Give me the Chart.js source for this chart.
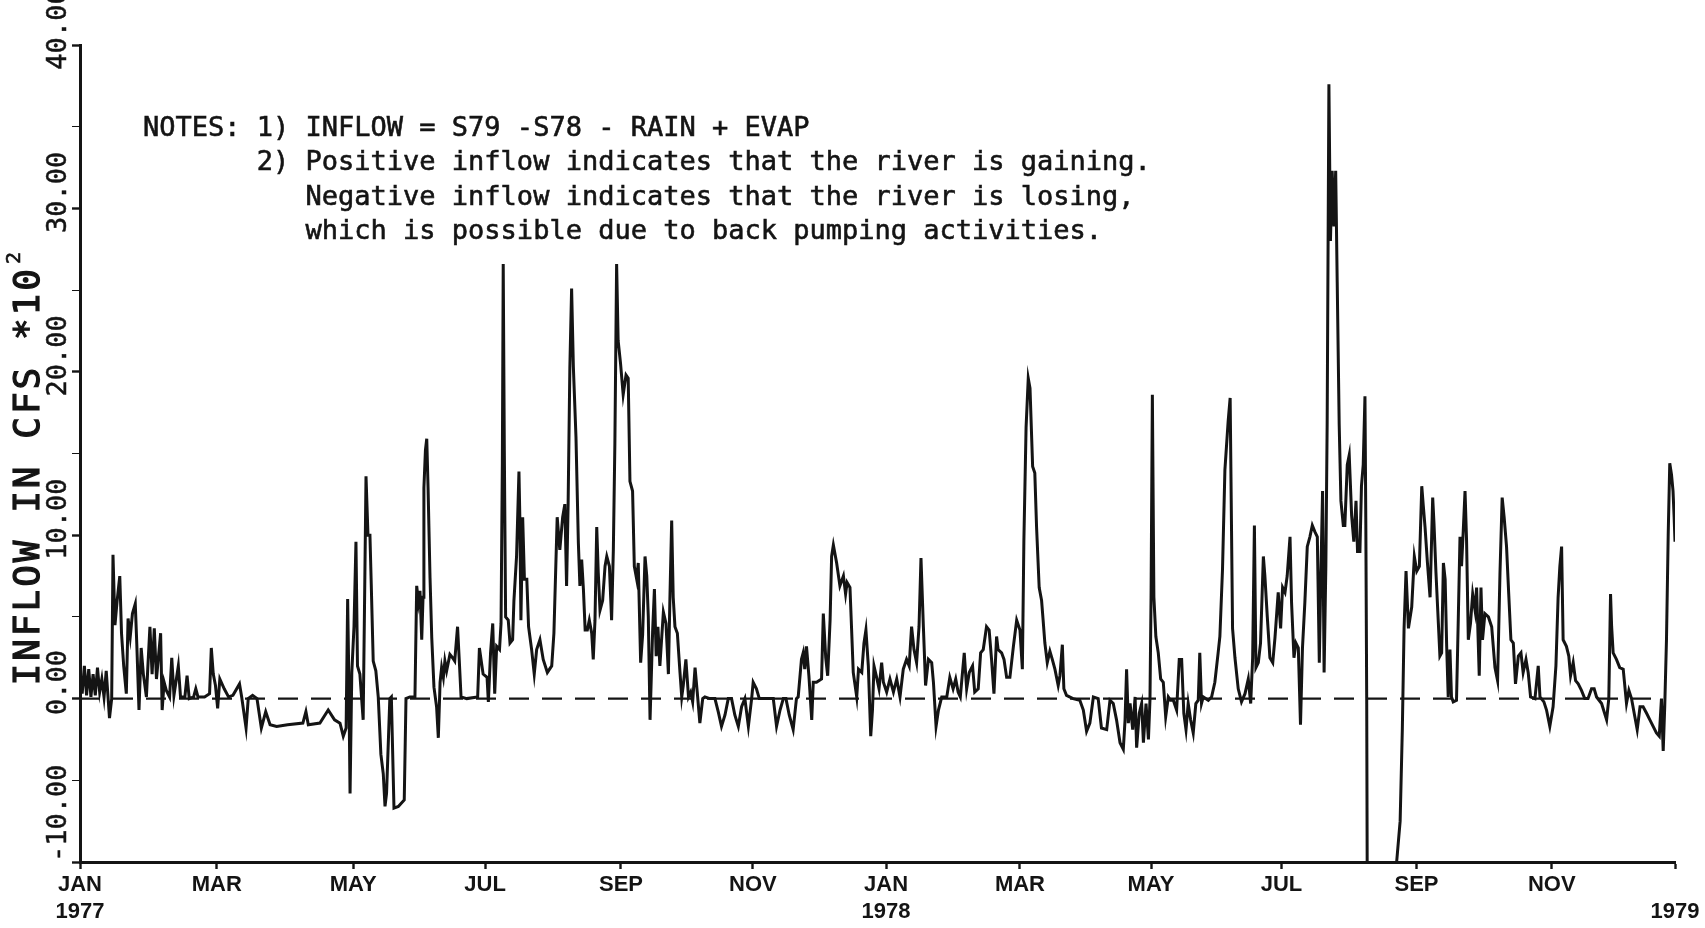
<!DOCTYPE html>
<html>
<head>
<meta charset="utf-8">
<title>Inflow S79 - S78</title>
<script src="https://cdn.jsdelivr.net/npm/chart.js@4.4.1/dist/chart.umd.min.js"></script>
<style>
  html, body { margin: 0; padding: 0; background: #fff; }
  #wrap { width: 1705px; height: 928px; }
</style>
</head>
<body>
<div id="wrap"><canvas id="myChart"></canvas></div>
<script>
// x = plot day counted from Jan 1 1977, y = inflow in cfs x 100
// values, one [day, value] pair per vertex
const inflow1977a = [
  [0,1.5],[1,0.3],[2,2.0],[3,0.2],[4,1.8],[5,0.1],[6,1.5],[7,0.2],[8,1.9],[9,0.4],[10,1.2],[11,0.1],[12,1.7],
  [13.5,-1.2],[14.5,0.0],[15.1,8.8],[16,4.5],[17,6.0],[18.2,7.5],[19,4.0],[20,2.0],[21.2,0.3],[22,4.9],[23,3.8],
  [24,5.2],[25.3,5.8],[26,3.3],[27,-0.7],[28,3.1],[29,1.5],[30.4,0.1],[31,1.8],[32,4.4],[33,1.5],[34,4.3],[35,1.2],
  [36.9,4.0],[37.6,-0.7],[38.5,1.0],[39.5,0.5],[41,0.1],[42,2.5],[43,0.2],[45,2.0],[46,0.1],[48,0.1],[49,1.4],
  [50,0.0],[52,0.1],[53,0.6],[54,0.1],[57,0.1],[59.3,0.3],[60.1,3.1],[61,1.5],[62,0.8],[63,-0.6],[64,1.2],[66,0.6],
  [68,0.1],[70,0.2],[73,0.9],[74,0.1],[76,-1.8],[77,0.0],[79,0.2],[81,0.0],[83,-1.8],[85,-0.8],[87,-1.6],[90,-1.7],
  [95,-1.6],[102,-1.5],[103.4,-0.8],[104.5,-1.6],[109.8,-1.5],[113.6,-0.7],[116.5,-1.3],[119,-1.5],[120.5,-2.3],
  [121.8,-1.8],[122.5,6.1],[123,1.5],[123.6,-5.8],[124.4,1.6],[125.4,4.4],[126.3,9.6],[127,2.0],[128.1,1.5],
  [129.6,-1.3],[130.3,6.6],[130.9,13.6],[131.8,10.0],[132.7,10.0],[133.3,7.0],[134.2,2.3],[135.4,1.7],[136.5,0.1],
  [137.7,-3.4],[138.8,-4.6],[139.6,-6.6],[140.3,-5.8],[141.8,0.0],[142.5,0.1],[143.7,-6.7],[145.7,-6.6],[148.4,-6.2],
  [149.2,0.0],[151,0.1],[153.3,0.1],[154.1,6.9],[154.9,5.9],[155.6,6.6],[156.4,3.6],[157,6.2],[157.4,12.9],
  [158.1,15.2],[158.7,15.9],[159.3,12.9],[160.2,7.4],[161,3.7],[162,0.7],[163.2,-0.5],[164,-2.4],[164.8,1.0],
  [165.5,1.9],[166.3,1.3],[167,2.3],[167.8,1.7],[169.3,2.7],[170.5,2.5],[171.5,2.3],[172.8,4.4],[173.6,2.3],
  [174.4,0.1],[177,0.0],[182,0.1]
];
const inflow1977b = [
  [182.8,3.1],[184.5,1.5],[186.3,1.3],[186.9,-0.2],[187.9,2.8],[188.9,4.6],[189.8,0.3],[190.7,3.2],[192,3.0],
  [192.7,4.6],[193.3,14.4],[193.7,26.6],[194.2,15.2],[194.8,5.0],[196,4.8],[196.8,3.4],[198,3.6],[198.6,6.0],
  [199.8,8.7],[200.9,13.9],[201.3,11.1],[201.8,4.8],[202.6,11.1],[203.4,7.3],[204.5,7.3],[205.3,4.4],[206.7,3.0],
  [207.9,1.5],[209,3.0],[210.5,3.6],[212,2.4],[213.9,1.6],[215.9,2.0],[216.9,4.0],[218.4,11.1],[219.6,9.1],
  [220.9,11.1],[221.9,11.9],[222.7,6.9],[223.4,11.9],[224.2,20.3],[225,25.1],[225.8,20.3],[227,16.0],[228.1,9.5],
  [228.8,6.9],[229.6,8.5],[230.4,6.7],[231.2,4.2],[232.2,4.2],[233.1,4.8],[234.2,4.0],[234.9,2.4],[235.7,4.8],
  [236.5,10.5],[237.2,7.7],[238,5.4],[239.2,6.0],[240.3,8.1],[241.1,8.7],[242.3,8.1],[243.3,4.8],[244.1,9.1],
  [244.8,15.6],[245.6,26.6],[246.3,21.9],[247.4,20.5],[248.6,18.6],[249.9,19.8],[250.9,19.6],[251.7,13.3],
  [252.9,12.7],[253.7,8.1],[254.8,7.3],[255.5,8.3],[256.6,2.2],[257.5,3.9],[258.6,8.7],[259.4,7.5],[260.1,5.0],
  [260.9,-1.3],[262.1,4.2],[262.9,6.7],[263.7,2.6],[264.5,4.4],[265.4,2.0],[267,5.3],[268.2,4.6],[269.3,1.5],
  [270,6.2],[270.8,10.9],[271.5,6.2],[272.3,4.4],[273.4,4.0],[274.6,1.6],[275.4,0.1],[276.1,0.8],[277.3,2.4],
  [278.5,0.1],[279.5,0.4],[280.4,-0.2],[281.5,1.9],[282.5,0.4],[283.7,-1.5],[285,0.0],[286,0.1],[288.3,0.0],
  [290.6,0.0],[292.1,-0.8],[293.6,-1.7],[295.2,-1.0],[296.7,0.0],[298.2,0.0],[299.7,-1.0],[301.3,-1.7],[302.8,-0.5],
  [304.3,0.0],[305.9,-1.7],[307.4,0.0],[308.1,1.0],[309.6,0.6],[310.9,0.0],[314,0.0],[317.3,0.0],[318.8,-1.7],
  [320.4,-0.7],[321.9,0.0],[323.1,0.0],[324.6,-1.0],[326.4,-1.9],[327.9,0.0],[328.7,0.1],[330.2,2.4],[331,2.8],
  [331.7,1.8],[332.5,3.2],[333.6,1.4],[334.9,-1.3],[335.6,1.0],[337.1,1.0],[339.4,1.2],[340.2,5.2],[341.3,2.5],
  [342.2,1.4],[343.3,4.8],[344,8.7],[344.8,9.4],[346.3,8.3],[347.8,6.9],[349.4,7.5],[350.4,6.4],[351.1,7.1]
];
const inflow1978a = [
  [352.4,6.8],[353.1,4.4],[353.9,1.6],[355.5,0.1],[356.3,1.8],[357.8,1.6],[358.8,3.4],[359.7,4.2],[360.8,2.0],
  [361.9,-2.3],[362.7,-0.7],[363.4,2.0],[364.6,1.3],[365.7,0.6],[366.9,2.2],[367.7,1.0],[369.2,0.4],[370.7,1.2],
  [372.3,0.4],[373.8,1.2],[375.3,0.1],[376.8,1.8],[378.3,2.4],[379.5,2.0],[380.6,4.4],[381.7,3.0],[382.9,2.2],
  [384,4.4],[384.9,8.6],[386,4.4],[387,0.8],[388.3,2.4],[389.8,2.2],[390.6,1.0],[391.8,-1.7],[392.9,-0.7],
  [394.4,0.1],[396.7,0.1],[398.1,1.3],[399.6,0.6],[400.8,1.2],[401.9,0.4],[402.9,0.1],[404.7,2.8],[405.8,0.6],
  [407,1.6],[408.5,2.0],[409.5,0.4],[411.1,0.6],[412.2,2.8],[413.4,3.0],[414.9,4.4],[416.1,4.2],[417.2,2.4],
  [418.3,0.3],[419.5,3.8],[420.2,3.0],[421.8,2.8],[422.9,2.4],[424.1,1.3],[425.6,1.3],[427.2,3.2],[428.7,4.8],
  [430.2,4.2],[431.3,1.8],[432,9.7],[433,16.6],[434,19.6],[434.8,19.0],[436,14.2],[437,13.8],[437.8,10.5],
  [439,6.8],[440.1,6.0],[440.8,4.8],[441.6,3.4],[442.7,2.2],[443.9,2.9],[445,2.4],[446.2,1.8],[447.7,0.8],
  [448.5,1.4],[449.6,3.3],[450.3,0.6],[451.5,0.2],[454.5,0.0],[457.6,-0.1],[459.2,-0.7],[460.7,-2.0],[462.2,-1.5],
  [463.8,0.1],[466,0.0],[467.5,-1.8],[469.9,-1.9],[471.4,-0.1],[472.9,-0.3],[474.4,-1.3],[476,-2.7],[477.5,-3.1],
  [478.3,-1.3],[479,1.8],[479.8,-1.5],[480.6,-0.3],[481.8,-1.9],[482.9,0.1],[483.6,-3.0],[484.8,-0.9],[485.9,-0.3],
  [486.7,-2.7],[487.9,-0.3],[489,-2.5],[489.7,-0.1],[490.2,6.2],[490.8,18.6],[491.5,6.2],[492.4,3.8],[493.5,2.8],
  [494.6,1.2],[495.8,1.0],[496.9,-1.1],[498.1,0.1],[499.1,-0.1],[500.4,-0.1],[501.9,-0.7],[503.1,2.4],[504.2,2.4],
  [505.2,-0.9],[506.2,-1.9],[507.2,-0.3],[508.3,-1.3],[509.5,-2.1],[510.7,-0.3],[511.8,-0.1],[512.5,2.8],
  [513.3,-0.3],[514.1,0.1],[516.4,-0.1],[517.9,0.1],[519.4,1.0],[520.9,2.8],[521.7,3.8],[522.9,7.9],[524,14.0],
  [525.5,17.0],[526.4,18.4],[527.5,4.3],[528.6,2.5],[530.1,0.6]
];
const inflow1978b = [
  [531.6,-0.2],[533.2,0.3],[534.7,1.2],[535.8,-0.3],[536.7,2.5],[537.5,10.6],[538.2,1.9],[539.3,2.2],[540.3,3.4],
  [541.6,8.7],[542.3,7.5],[543.4,5.0],[544.6,2.5],[545.9,2.2],[546.9,3.7],[548.4,6.5],[549.5,4.3],[550.4,6.8],
  [551.5,6.5],[552.5,7.5],[553.8,9.9],[554.5,5.9],[555.6,2.5],[556.5,3.4],[557.6,3.1],[558.6,-1.6],[559.5,3.1],
  [560.6,5.9],[561.7,9.3],[562.9,9.9],[564,10.6],[565.2,10.2],[566.3,9.9],[567.2,2.2],[567.9,7.5],[568.7,12.7],
  [569.4,1.6],[570.2,8.1],[570.8,16.8],[571.6,37.6],[572.3,28.0],[573.1,32.3],[573.9,28.9],[574.7,32.3],
  [575.4,25.5],[576.3,16.8],[577.1,12.1],[578.2,10.6],[578.9,10.6],[580,14.3],[580.9,14.9],[582,11.2],[583,9.6],
  [584,12.1],[584.7,9.0],[585.8,9.0],[586.5,13.0],[587.3,14.3],[588.1,18.5],[588.5,10.6],[588.9,0.0],[589.2,-14],
  [595,-16],[602,-14],[602.6,-10.0],[604.2,-7.5],[605.2,-1.9],[606,4.3],[606.9,7.8],[608,4.3],[609.5,5.6],
  [610.7,8.7],[611.8,7.8],[613,8.1],[614.1,13.0],[614.8,11.8],[615.6,10.5],[616.7,8.3],[617.9,6.2],[619.1,12.3],
  [619.7,10.7],[620.6,7.7],[621.7,4.6],[622.4,2.6],[623.2,2.8],[624,8.3],[624.8,7.3],[625.5,3.2],[626.2,0.1],
  [627,3.0],[627.7,0.1],[628.5,-0.2],[630,-0.1],[630.8,4.8],[631.6,9.9],[632.3,8.1],[633.1,10.3],[633.9,12.7],
  [634.6,9.7],[635.4,3.6],[636.4,4.6],[637.4,6.4],[638.5,5.4],[639.2,6.8],[640.4,1.4],[641.2,6.8],[641.9,3.6],
  [643,5.2],[644.6,5.0],[646.1,4.4],[647.6,1.9],[648.8,1.1],[649.9,7.7],[650.9,12.3],[651.8,11.1],[652.9,9.3],
  [653.9,6.4],[654.9,3.6],[656,3.4],[657,0.9],[658.3,2.6],[659.5,2.8],[660.5,1.6],[661.8,2.4],[662.8,1.6],
  [663.9,0.1],[665.9,0.0],[667.4,2.0],[668.2,0.1],[670,-0.2],[671.2,-0.7],[672.7,-1.7],[674.2,-0.5],[675.5,2.0],
  [676.5,6.2],[677.3,8.1],[678.1,9.3],[678.8,3.6],[680.3,3.2],[681.4,2.6],[682.2,1.4],[683.4,2.2],[684.5,1.1],
  [685.7,0.9],[687.2,0.5],[688.7,0.0],[690.2,0.0],[691.8,0.6],[693,0.6],[694.1,0.1],[696.4,-0.3],[698.7,-1.3],
  [699.7,0.0],[700.5,6.4],[701,4.4],[701.7,2.8],[703.2,2.4],[704.7,1.9],[706.3,1.8],[707.8,-0.3],[708.9,0.5],
  [710.1,0.0],[711.6,-1.1],[712.7,-1.9],[714,-0.5],[715.4,-0.5],[717,-0.9],[718.5,-1.3],[720,-1.7],[721.5,-2.1],
  [722.8,-2.3],[723.8,0.0],[724.6,-3.2],[725.3,-0.5],[726.1,3.6],[726.9,10.1],[727.6,14.4],[728.4,13.7],
  [729.1,12.7],[729.6,11.1],[730,9.6]
];

// month ticks (plot day of each tick mark as drawn on the original) and their labels
const xTickDays = [0, 62.6, 125, 185.4, 247.6, 308, 368.9, 430.2, 490.2, 549.9, 611.7, 673.6, 730];
const xTickLabels = [["JAN", "1977"], "MAR", "MAY", "JUL", "SEP", "NOV",
                     ["JAN", "1978"], "MAR", "MAY", "JUL", "SEP", "NOV", ["", "1979"]];
const yTickValues = [-10, 0, 10, 20, 30, 40];
const yTickLabels = ["-10.00", "0.00", "10.00", "20.00", "30.00", "40.00"];
const zeroLine = [[0, 0], [724, 0]];

const yTitle = "INFLOW IN CFS *10";
const notes = [
  [0, "NOTES: 1) INFLOW = S79 -S78 - RAIN + EVAP"],
  [7, "2) Positive inflow indicates that the river is gaining."],
  [10, "Negative inflow indicates that the river is losing,"],
  [10, "which is possible due to back pumping activities."]
];

const ink = "#141414";
const toXY = (pairs) => pairs.map(p => ({ x: p[0], y: p[1] }));
const inflow = [].concat(inflow1977a, inflow1977b, inflow1978a, inflow1978b);

// draws text a bit heavier, like the plotter pen
function penText(ctx, s, x, y, w) {
  ctx.fillText(s, x, y);
  ctx.lineWidth = w;
  ctx.strokeText(s, x, y);
}

// text the plotter put on the page: rotated y tick labels, axis title, notes
const plotterText = {
  id: "plotterText",
  afterDraw(chart) {
    const { ctx, chartArea } = chart;
    const y = chart.scales.y;
    ctx.save();
    ctx.fillStyle = ink;
    ctx.strokeStyle = ink;
    ctx.textBaseline = "middle";

    ctx.font = '27px "DejaVu Sans Mono"';
    yTickValues.forEach((v, i) => {
      const w = ctx.measureText(yTickLabels[i]).width;
      const cy = Math.min(y.getPixelForValue(v) - 16, chartArea.bottom - w / 2);
      ctx.save();
      ctx.translate(chartArea.left - 21, cy);
      ctx.rotate(-Math.PI / 2);
      ctx.textAlign = "center";
      penText(ctx, yTickLabels[i], 0, 0, 0.5);
      ctx.restore();
    });

    // axis title, reading bottom to top
    ctx.save();
    ctx.translate(chartArea.left - 50, y.getPixelForValue(0.8));
    ctx.rotate(-Math.PI / 2);
    ctx.textAlign = "left";
    ctx.font = '36px "DejaVu Sans Mono"';
    ctx.letterSpacing = "3px";
    penText(ctx, yTitle, 0, 0, 1.2);
    const tw = ctx.measureText(yTitle).width;
    ctx.font = '20px "DejaVu Sans Mono"';
    penText(ctx, "2", tw + 2, -15, 0.6);
    ctx.restore();

    // notes block
    ctx.font = '27px "DejaVu Sans Mono"';
    ctx.letterSpacing = "0px";
    ctx.textAlign = "left";
    const cw = ctx.measureText("M").width;
    const x0 = chartArea.left + 63;
    notes.forEach((n, i) => {
      penText(ctx, n[1], x0 + n[0] * cw, chartArea.top + 84 + i * 34.3, 0.6);
    });
    ctx.restore();
  }
};

const ctx = document.getElementById("myChart").getContext("2d");
const myChart = new Chart(ctx, {
  type: "line",
  data: {
    datasets: [
      {
        label: "zero",
        data: toXY(zeroLine),
        borderColor: ink,
        borderWidth: 2.4,
        borderDash: [20, 13],
        pointRadius: 0
      },
      {
        label: "Inflow",
        data: toXY(inflow),
        borderColor: ink,
        borderWidth: 3,
        pointRadius: 0,
        tension: 0
      }
    ]
  },
  options: {
    responsive: true,
    maintainAspectRatio: false,
    animation: false,
    layout: { padding: { top: 45, right: 30, left: 0, bottom: 0 } },
    plugins: { legend: { display: false }, tooltip: { enabled: false } },
    scales: {
      x: {
        type: "linear",
        min: 0,
        max: 730,
        afterBuildTicks: (scale) => { scale.ticks = xTickDays.map(d => ({ value: d })); },
        afterFit: (scale) => { scale.height = 66; },
        grid: { drawOnChartArea: false, drawTicks: true, tickLength: 7, color: ink, tickWidth: 2.4 },
        border: { display: true, color: ink, width: 3 },
        ticks: {
          autoSkip: false,
          maxRotation: 0,
          padding: 3,
          color: ink,
          font: { family: "Liberation Sans", size: 22, weight: "bold" },
          callback: (v, i) => xTickLabels[i]
        }
      },
      y: {
        type: "linear",
        min: -10,
        max: 40,
        afterFit: (scale) => { scale.width = 80; },
        grid: {
          drawOnChartArea: false, drawTicks: true, tickLength: 8, color: ink,
          tickWidth: (c) => (c.tick && c.tick.value % 10 === 0 ? 2.4 : 1)
        },
        border: { display: true, color: ink, width: 3 },
        ticks: { stepSize: 5, display: false }
      }
    }
  },
  plugins: [plotterText]
});
</script>
</body>
</html>
